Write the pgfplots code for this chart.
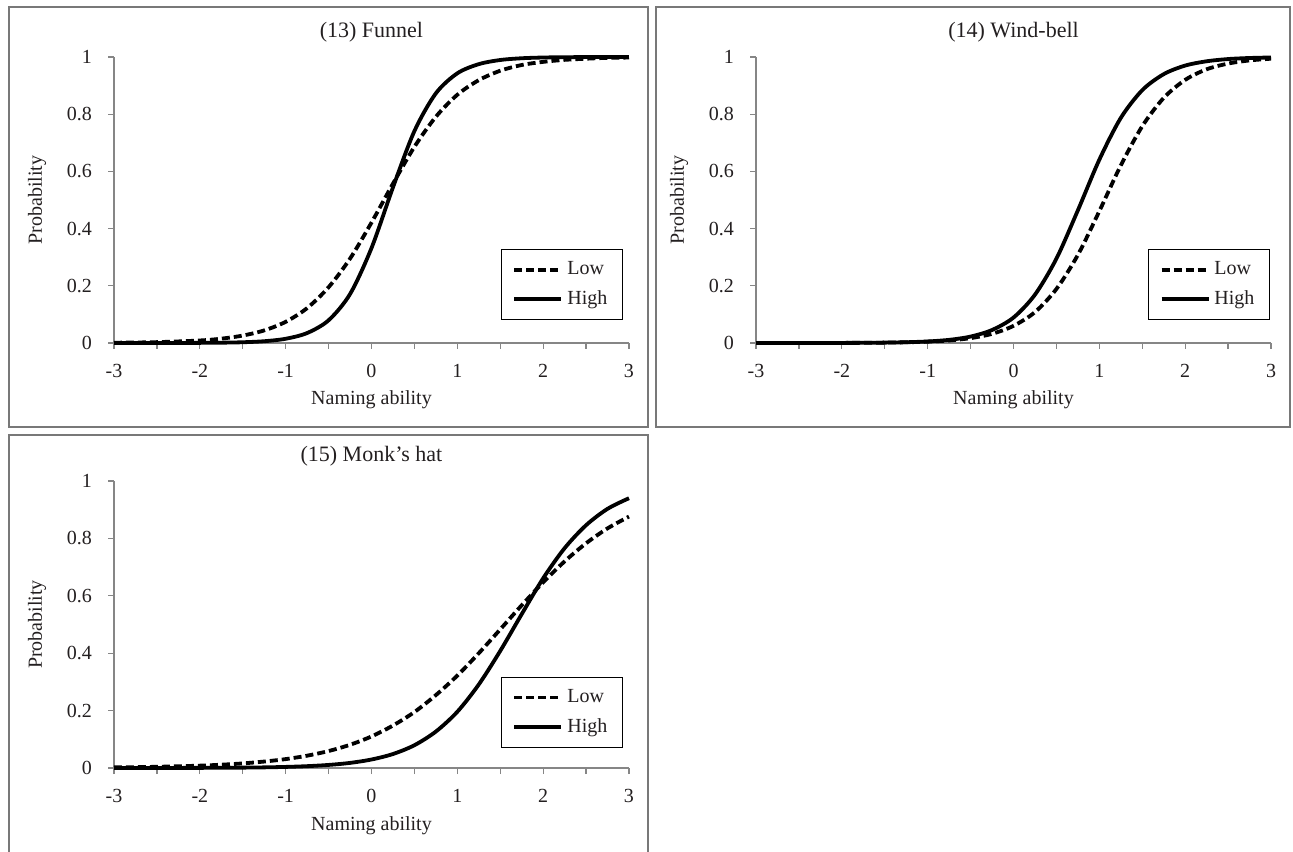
\documentclass[border=0pt]{standalone}
\usepackage{fontspec}
\setmainfont{Liberation Serif}
\usepackage{pgfplots}
\usepackage{pgfplotstable}
\pgfplotsset{compat=1.18}

\definecolor{axisgray}{RGB}{134,134,134}
\definecolor{framegray}{RGB}{120,120,120}
\definecolor{txt}{RGB}{35,31,32}

% x, Low, High
\pgfplotstableread{
x     low    high
-3    0.0010 0.0000
-2.5  0.0030 0.0001
-2    0.0088 0.0005
-1.75 0.0152 0.0011
-1.5  0.0260 0.0026
-1.25 0.0440 0.0062
-1    0.0740 0.0148
-0.75 0.1220 0.0348
-0.5  0.1950 0.0794
-0.25 0.2950 0.1710
0     0.4210 0.3320
0.25  0.5570 0.5440
0.5   0.6860 0.7410
0.75  0.7910 0.8730
1     0.8680 0.9430
1.25  0.9190 0.9750
1.5   0.9520 0.9895
1.75  0.9720 0.9956
2     0.9830 0.9982
2.25  0.9900 0.9992
2.5   0.9940 0.9997
2.75  0.9970 0.9999
3     0.9980 1.0000
}\funnel

\pgfplotstableread{
x     low    high
-3    0.0000 0.0000
-2.5  0.0001 0.0001
-2    0.0003 0.0003
-1.75 0.0007 0.0006
-1.5  0.0013 0.0013
-1.25 0.0025 0.0027
-1    0.0047 0.0054
-0.75 0.0089 0.0110
-0.5  0.0170 0.0225
-0.25 0.0320 0.0455
0     0.0600 0.0890
0.25  0.1080 0.1690
0.5   0.1890 0.2950
0.75  0.3080 0.4640
1     0.4610 0.6410
1.25  0.6210 0.7870
1.5   0.7580 0.8840
1.75  0.8570 0.9400
2     0.9200 0.9700
2.25  0.9570 0.9850
2.5   0.9770 0.9928
2.75  0.9880 0.9965
3     0.9940 0.9983
}\windbell

\pgfplotstableread{
x     low    high
-3    0.0021 0.0001
-2.5  0.0042 0.0002
-2    0.0082 0.0005
-1.75 0.0115 0.0008
-1.5  0.0160 0.0013
-1.25 0.0225 0.0022
-1    0.0310 0.0038
-0.75 0.0429 0.0064
-0.5  0.0591 0.0107
-0.25 0.0809 0.0178
0     0.1100 0.0296
0.25  0.1480 0.0487
0.5   0.1950 0.0794
0.75  0.2540 0.1270
1     0.3220 0.1960
1.25  0.4000 0.2910
1.5   0.4830 0.4080
1.75  0.5670 0.5360
2     0.6470 0.6610
2.25  0.7200 0.7660
2.5   0.7830 0.8460
2.75  0.8350 0.9030
3     0.8760 0.9400
}\monkshat

\pgfplotsset{
  panel/.style={
    scale only axis, width=257.5pt, height=143pt,
    xmin=-3, xmax=3, ymin=0, ymax=1,
    axis lines=left,
    axis line style={-, draw=axisgray, line width=0.6pt},
    tick align=outside,
    tick style={draw=axisgray, line width=0.6pt},
    major tick length=3pt, minor tick length=3pt,
    xtick={-3,-2,-1,0,1,2,3}, xticklabels={-3,-2,-1,0,1,2,3},
    minor x tick num=1,
    ytick={0,0.2,0.4,0.6,0.8,1}, yticklabels={0,0.2,0.4,0.6,0.8,1},
    ticklabel style={font=\fontsize{10}{12}\selectfont, text=txt},
    xticklabel style={yshift=-4pt},
    yticklabel style={xshift=-4.5pt},
    label style={font=\fontsize{10}{12}\selectfont, text=txt},
    xlabel={Naming ability}, ylabel={Probability},
    xlabel style={at={(axis description cs:0.5,-0.2)}, anchor=center},
    ylabel style={at={(axis description cs:-0.1495,0.5)}, anchor=center},
    title style={at={(axis description cs:0.5,1)}, anchor=center,
                 yshift=6.5pt, font=\fontsize{11}{13}\selectfont, text=txt},
    clip=false,
    legend style={draw=black, line width=0.5pt, fill=white,
                  font=\fontsize{10}{12}\selectfont, text=txt,
                  anchor=south east, inner xsep=5.5pt, inner ysep=4pt,
                  row sep=2.5pt},
    legend cell align=left,
    legend image code/.code={\draw[##1] (0pt,0pt) -- (23.5pt,0pt);},
  },
  low/.style={black, line width=1.9pt, dash pattern=on 4pt off 2pt},
  high/.style={black, line width=1.9pt},
}

\begin{document}
\begin{tikzpicture}[x=1pt,y=1pt]
\path[use as bounding box] (0,0) rectangle (646.5,425.5);
\draw[framegray, line width=1pt] (4.5,212) rectangle (324,422);
\draw[framegray, line width=1pt] (328,212) rectangle (645,422);
\draw[framegray, line width=1pt] (4.5,-2) -- (4.5,208) -- (324,208) -- (324,-2);

\begin{axis}[panel, at={(57pt,254pt)}, anchor=south west,
  title={(13) Funnel}, legend style={at={(0.988,0.08)}}]
\addplot[low, smooth] table[x=x, y=low] {\funnel};
\addlegendentry{Low}
\addplot[high, smooth] table[x=x, y=high] {\funnel};
\addlegendentry{High}
\end{axis}

\begin{axis}[panel, at={(378pt,254pt)}, anchor=south west,
  title={(14) Wind-bell}, legend style={at={(0.998,0.08)}}]
\addplot[low, smooth] table[x=x, y=low] {\windbell};
\addlegendentry{Low}
\addplot[high, smooth] table[x=x, y=high] {\windbell};
\addlegendentry{High}
\end{axis}

\begin{axis}[panel, at={(57pt,41.5pt)}, anchor=south west, height=143.5pt,
  title={(15) Monk's hat}, legend style={at={(0.988,0.07)}}]
\addplot[low, smooth] table[x=x, y=low] {\monkshat};
\addlegendentry{Low}
\addplot[high, smooth] table[x=x, y=high] {\monkshat};
\addlegendentry{High}
\end{axis}
\end{tikzpicture}
\end{document}
